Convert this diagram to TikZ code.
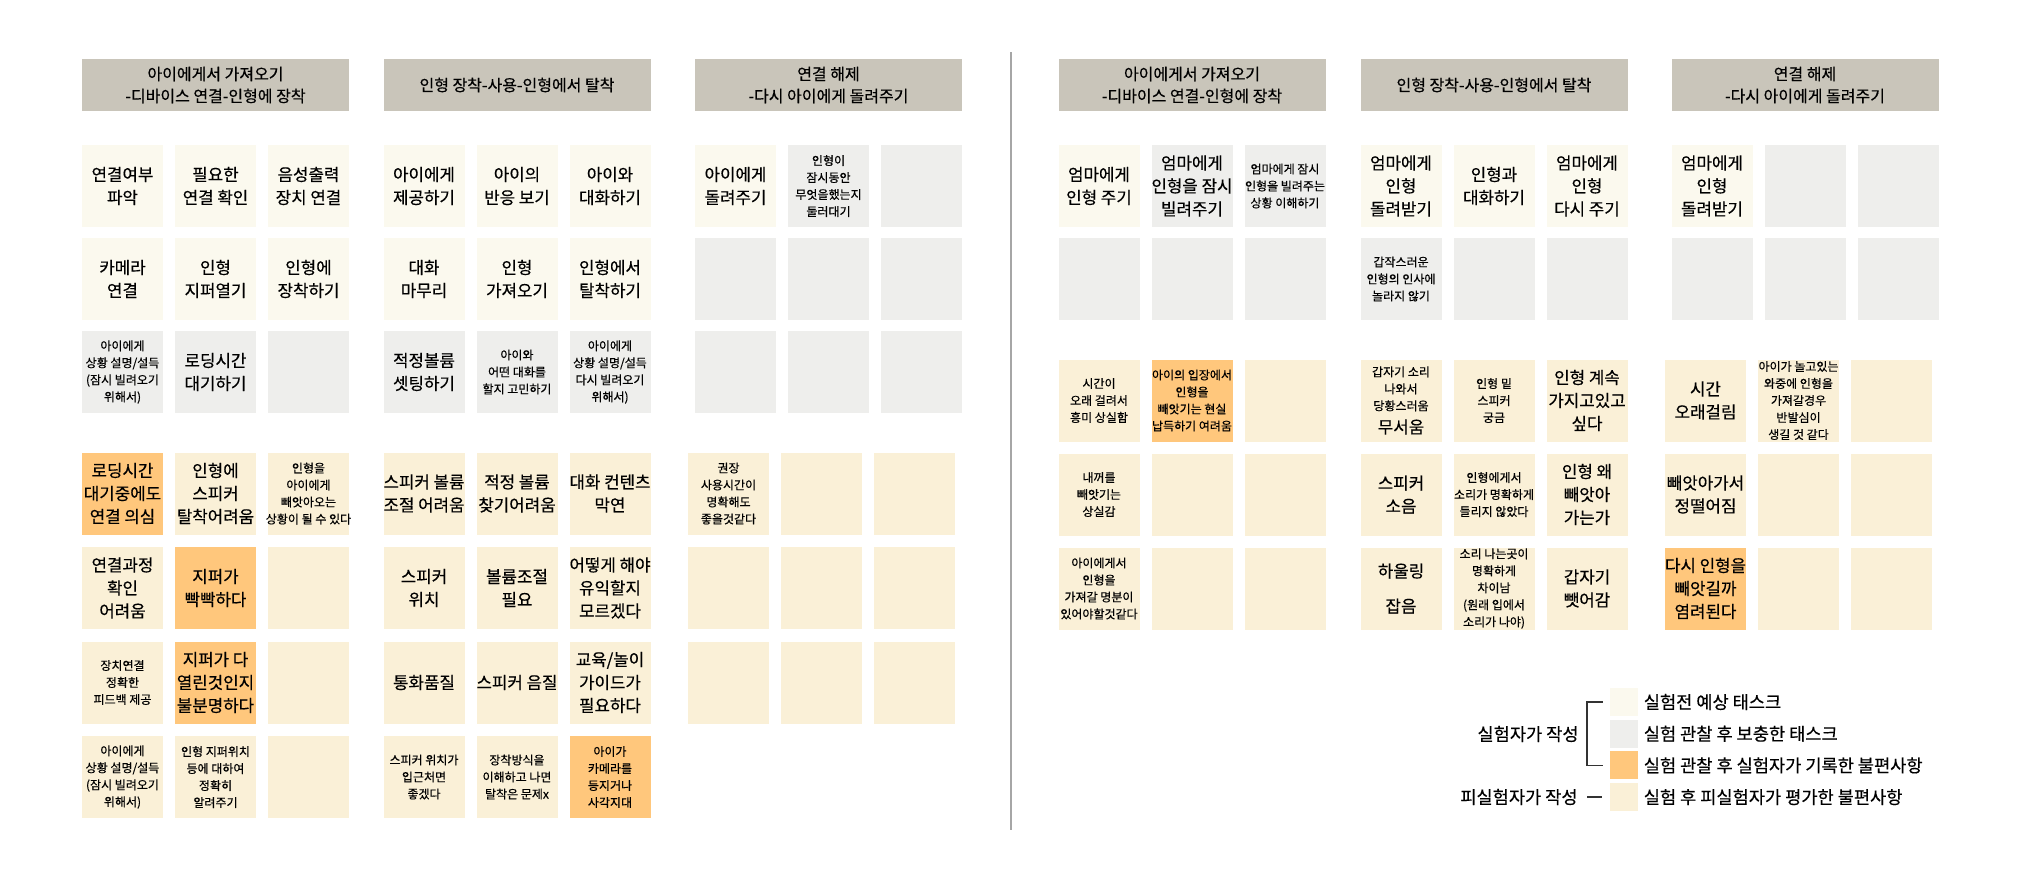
\documentclass[tikz,border=0pt]{standalone}
\usepackage{fontspec}
\setmainfont{Noto Sans CJK KR}[FakeBold=0.4]
\usetikzlibrary{positioning}

\definecolor{headgray}{HTML}{C9C5BA}
\definecolor{expcol}{HTML}{FBF9EE}
\definecolor{addcol}{HTML}{EEEEEC}
\definecolor{notecol}{HTML}{FFC77C}
\definecolor{ratecol}{HTML}{FAF0D7}

\begin{document}
\begin{tikzpicture}[
    x=0.5pt, y=-0.5pt,
    node distance=46.5pt, on grid,
    head/.style={rectangle, fill=headgray, minimum width=133.5pt, minimum height=26pt,
                 inner sep=0pt, align=center, font=\fontsize{8}{11}\selectfont},
    task/.style={rectangle, minimum width=40.5pt, minimum height=41pt,
                 inner xsep=-10pt, inner ysep=0pt, align=center,
                 font=\fontsize{8.4}{11.5}\selectfont},
    fine/.style={font=\fontsize{6}{8.5}\selectfont},
    expected/.style={task, fill=expcol},
    added/.style={task, fill=addcol},
    noted/.style={task, fill=notecol},
    rated/.style={task, fill=ratecol},
    keybox/.style={minimum size=14pt, inner sep=0pt},
    keytext/.style={anchor=west, inner sep=0pt, font=\fontsize{8.8}{10}\selectfont},
    bracket/.style={line width=0.9pt, black!80},
]
    \useasboundingbox (0,0) rectangle (2019,875);

    % left half: stage 1
    \node[expected] (l1a1) at (122.5,186) {연결여부\\파악};
    \node[expected, right=of l1a1] (l1a2) {필요한\\연결 확인};
    \node[expected, right=of l1a2] (l1a3) {음성출력\\장치 연결};
    \node[expected, below=of l1a1] (l1b1) {카메라\\연결};
    \node[expected, right=of l1b1] (l1b2) {인형\\지퍼열기};
    \node[expected, right=of l1b2] (l1b3) {인형에\\장착하기};
    \node[added, fine, below=of l1b1] (l1c1) {아이에게\\상황 설명/설득\\(잠시 빌려오기\\위해서)};
    \node[added, right=of l1c1] (l1c2) {로딩시간\\대기하기};
    \node[added, right=of l1c2] (l1c3) {};
    \node[noted, below=60.75pt of l1c1] (l1d1) {로딩시간\\대기중에도\\연결 의심};
    \node[rated, right=of l1d1] (l1d2) {인형에\\스피커\\탈착어려움};
    \node[rated, fine, right=of l1d2] (l1d3) {인형을\\아이에게\\빼앗아오는\\상황이 될 수 있다};
    \node[rated, below=47.25pt of l1d1] (l1e1) {연결과정\\확인\\어려움};
    \node[noted, right=of l1e1] (l1e2) {지퍼가\\빡빡하다};
    \node[rated, right=of l1e2] (l1e3) {};
    \node[rated, fine, below=47.25pt of l1e1] (l1f1) {장치연결\\정확한\\피드백 제공};
    \node[noted, right=of l1f1] (l1f2) {지퍼가 다\\열린것인지\\불분명하다};
    \node[rated, right=of l1f2] (l1f3) {};
    \node[rated, fine, below=47.25pt of l1f1] (l1g1) {아이에게\\상황 설명/설득\\(잠시 빌려오기\\위해서)};
    \node[rated, fine, right=of l1g1] (l1g2) {인형 지퍼위치\\등에 대하여\\정확히\\알려주기};
    \node[rated, right=of l1g2] (l1g3) {};
    \node[head, above=50.5pt of l1a2] (l1head) {아이에게서 가져오기\\-디바이스 연결-인형에 장착};

    % left half: stage 2
    \node[expected] (l2a1) at (424,186) {아이에게\\제공하기};
    \node[expected, right=of l2a1] (l2a2) {아이의\\반응 보기};
    \node[expected, right=of l2a2] (l2a3) {아이와\\대화하기};
    \node[expected, below=of l2a1] (l2b1) {대화\\마무리};
    \node[expected, right=of l2b1] (l2b2) {인형\\가져오기};
    \node[expected, right=of l2b2] (l2b3) {인형에서\\탈착하기};
    \node[added, below=of l2b1] (l2c1) {적정볼륨\\셋팅하기};
    \node[added, fine, right=of l2c1] (l2c2) {아이와\\어떤 대화를\\할지 고민하기};
    \node[added, fine, right=of l2c2] (l2c3) {아이에게\\상황 설명/설득\\다시 빌려오기\\위해서)};
    \node[rated, below=60.75pt of l2c1] (l2d1) {스피커 볼륨\\조절 어려움};
    \node[rated, right=of l2d1] (l2d2) {적정 볼륨\\찾기어려움};
    \node[rated, right=of l2d2] (l2d3) {대화 컨텐츠\\막연};
    \node[rated, below=47.25pt of l2d1] (l2e1) {스피커\\위치};
    \node[rated, right=of l2e1] (l2e2) {볼륨조절\\필요};
    \node[rated, right=of l2e2] (l2e3) {어떻게 해야\\유익할지\\모르겠다};
    \node[rated, below=47.25pt of l2e1] (l2f1) {통화품질};
    \node[rated, right=of l2f1] (l2f2) {스피커 음질};
    \node[rated, right=of l2f2] (l2f3) {교육/놀이\\가이드가\\필요하다};
    \node[rated, fine, below=47.25pt of l2f1] (l2g1) {스피커 위치가\\입근처면\\좋겠다};
    \node[rated, fine, right=of l2g1] (l2g2) {장착방식을\\이해하고 나면\\탈착은 문제x};
    \node[noted, fine, right=of l2g2] (l2g3) {아이가\\카메라를\\등지거나\\사각지대};
    \node[head, above=50.5pt of l2a2] (l2head) {인형 장착-사용-인형에서 탈착};

    % left half: stage 3
    \node[expected] (l3a1) at (735.5,186) {아이에게\\돌려주기};
    \node[added, fine, right=of l3a1] (l3a2) {인형이\\잠시동안\\무엇을했는지\\둘러대기};
    \node[added, right=of l3a2] (l3a3) {};
    \node[added, below=of l3a1] (l3b1) {};
    \node[added, right=of l3b1] (l3b2) {};
    \node[added, right=of l3b2] (l3b3) {};
    \node[added, below=of l3b1] (l3c1) {};
    \node[added, right=of l3c1] (l3c2) {};
    \node[added, right=of l3c2] (l3c3) {};
    \node[rated, fine, below=60.75pt of l3c1, xshift=-3.5pt] (l3d1) {권장\\사용시간이\\명확해도\\좋을것같다};
    \node[rated, right=of l3d1] (l3d2) {};
    \node[rated, right=of l3d2] (l3d3) {};
    \node[rated, below=47.25pt of l3d1] (l3e1) {};
    \node[rated, right=of l3e1] (l3e2) {};
    \node[rated, right=of l3e2] (l3e3) {};
    \node[rated, below=47.25pt of l3e1] (l3f1) {};
    \node[rated, right=of l3f1] (l3f2) {};
    \node[rated, right=of l3f2] (l3f3) {};
    \node[head, above=50.5pt of l3a2] (l3head) {연결 해제\\-다시 아이에게 돌려주기};

    % divider
    \coordinate (divtop) at (1011,52);
    \coordinate (divbot) at (1011,830);
    \draw[gray!70, line width=0.6pt] (divtop) -- (divbot);

    % right half: stage 1
    \node[expected] (r1a1) at (1099,186) {엄마에게\\인형 주기};
    \node[added, right=of r1a1] (r1a2) {엄마에게\\인형을 잠시\\빌려주기};
    \node[added, fine, right=of r1a2] (r1a3) {엄마에게 잠시\\인형을 빌려주는\\상황 이해하기};
    \node[added, below=of r1a1] (r1b1) {};
    \node[added, right=of r1b1] (r1b2) {};
    \node[added, right=of r1b2] (r1b3) {};
    \node[rated, fine, below=60.75pt of r1b1] (r1c1) {시간이\\오래 걸려서\\흥미 상실함};
    \node[noted, fine, right=of r1c1] (r1c2) {아이의 입장에서\\인형을\\빼앗기는 현실\\납득하기 여려움};
    \node[rated, right=of r1c2] (r1c3) {};
    \node[rated, fine, below=47pt of r1c1] (r1d1) {내꺼를\\빼앗기는\\상실감};
    \node[rated, right=of r1d1] (r1d2) {};
    \node[rated, right=of r1d2] (r1d3) {};
    \node[rated, fine, below=47pt of r1d1] (r1e1) {아이에게서\\인형을\\가져갈 명분이\\있어야할것같다};
    \node[rated, right=of r1e1] (r1e2) {};
    \node[rated, right=of r1e2] (r1e3) {};
    \node[head, above=50.5pt of r1a2] (r1head) {아이에게서 가져오기\\-디바이스 연결-인형에 장착};

    % right half: stage 2
    \node[expected] (r2a1) at (1401,186) {엄마에게\\인형\\돌려받기};
    \node[expected, right=of r2a1] (r2a2) {인형과\\대화하기};
    \node[expected, right=of r2a2] (r2a3) {엄마에게\\인형\\다시 주기};
    \node[added, fine, below=of r2a1] (r2b1) {갑작스러운\\인형의 인사에\\놀라지 않기};
    \node[added, right=of r2b1] (r2b2) {};
    \node[added, right=of r2b2] (r2b3) {};
    \node[rated, fine, below=60.75pt of r2b1] (r2c1) {갑자기 소리\\나와서\\당황스러움\\[3pt]{\fontsize{8.4}{11.5}\selectfont 무서움}};
    \node[rated, fine, right=of r2c1] (r2c2) {인형 밑\\스피커\\궁금};
    \node[rated, right=of r2c2] (r2c3) {인형 계속\\가지고있고\\싶다};
    \node[rated, below=47pt of r2c1] (r2d1) {스피커\\소음};
    \node[rated, fine, right=of r2d1] (r2d2) {인형에게서\\소리가 명확하게\\들리지 않았다};
    \node[rated, right=of r2d2] (r2d3) {인형 왜\\빼앗아\\가는가};
    \node[rated, below=47pt of r2d1] (r2e1) {하울링\\[6pt]잡음};
    \node[rated, fine, right=of r2e1] (r2e2) {소리 나는곳이\\명확하게\\차이남\\(원래 입에서\\소리가 나야)};
    \node[rated, right=of r2e2] (r2e3) {갑자기\\뺏어감};
    \node[head, above=50.5pt of r2a2] (r2head) {인형 장착-사용-인형에서 탈착};

    % right half: stage 3
    \node[expected] (r3a1) at (1712,186) {엄마에게\\인형\\돌려받기};
    \node[added, right=of r3a1] (r3a2) {};
    \node[added, right=of r3a2] (r3a3) {};
    \node[added, below=of r3a1] (r3b1) {};
    \node[added, right=of r3b1] (r3b2) {};
    \node[added, right=of r3b2] (r3b3) {};
    \node[rated, below=60.75pt of r3b1, xshift=-3.25pt] (r3c1) {시간\\오래걸림};
    \node[rated, fine, right=of r3c1] (r3c2) {아이가 놀고있는\\와중에 인형을\\가져갈경우\\반발심이\\생길 것 같다};
    \node[rated, right=of r3c2] (r3c3) {};
    \node[rated, below=47pt of r3c1] (r3d1) {빼앗아가서\\정떨어짐};
    \node[rated, right=of r3d1] (r3d2) {};
    \node[rated, right=of r3d2] (r3d3) {};
    \node[noted, below=47pt of r3d1] (r3e1) {다시 인형을\\빼앗길까\\염려된다};
    \node[rated, right=of r3e1] (r3e2) {};
    \node[rated, right=of r3e2] (r3e3) {};
    \node[head, above=50.5pt of r3a2] (r3head) {연결 해제\\-다시 아이에게 돌려주기};

    % legend
    \node[expected, keybox] (key1) at (1624,702) {};
    \node[added, keybox, below=15.85pt of key1] (key2) {};
    \node[noted, keybox, below=15.85pt of key2] (key3) {};
    \node[rated, keybox, below=15.85pt of key3] (key4) {};
    \node[keytext, xshift=2.5pt] (key1t) at (key1.east) {실험전 예상 태스크};
    \node[keytext, xshift=2.5pt] (key2t) at (key2.east) {실험 관찰 후 보충한 태스크};
    \node[keytext, xshift=2.5pt] (key3t) at (key3.east) {실험 관찰 후 실험자가 기록한 불편사항};
    \node[keytext, xshift=2.5pt] (key4t) at (key4.east) {실험 후 피실험자가 평가한 불편사항};
    \draw[bracket] ([xshift=-3.5pt]key1.west) -- ++(-8pt,0) |- ([xshift=-3.5pt]key3.west);
    \draw[bracket] ([xshift=-4pt]key4.west) -- ++(-7.5pt,0);
    \node[keytext, anchor=east] (byexp) at (1579,734) {실험자가 작성};
    \node[keytext, anchor=east] (bysubj) at (1578,797) {피실험자가 작성};
\end{tikzpicture}
\end{document}
